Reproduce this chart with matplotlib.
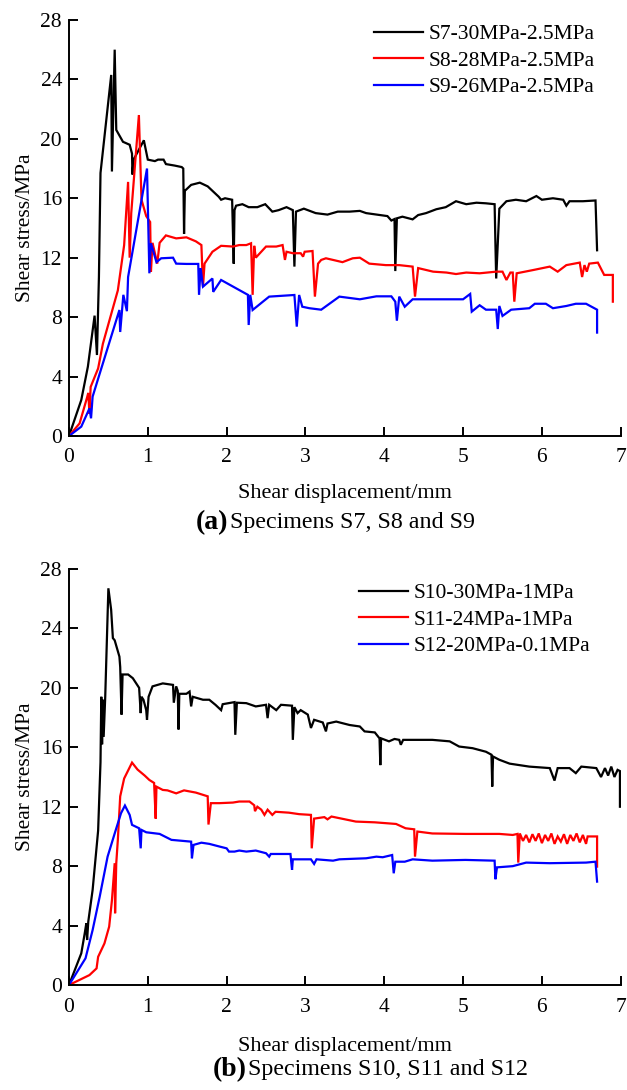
import numpy as np
import matplotlib
matplotlib.use("Agg")
import matplotlib.pyplot as plt

#--- Données ---
# (a) S7, S8, S9
s7_x = [0, 0.156, 0.24, 0.325, 0.355, 0.38, 0.40, 0.536, 0.545, 0.58, 0.60, 0.685, 0.77, 0.80, 0.805, 0.82,
        0.95, 1.0, 1.09, 1.13, 1.2, 1.23, 1.34, 1.43, 1.45, 1.46, 1.47, 1.55, 1.66, 1.76, 1.84, 1.9, 1.93,
        1.98, 2.07, 2.09, 2.10, 2.12, 2.2, 2.28, 2.39, 2.49, 2.58, 2.66, 2.76, 2.84, 2.86, 2.88, 2.98, 3.0,
        3.13, 3.28, 3.41, 3.56, 3.69, 3.77, 4.04, 4.09, 4.13, 4.14, 4.16, 4.23, 4.36, 4.43, 4.53, 4.66,
        4.78, 4.91, 5.04, 5.17, 5.29, 5.40, 5.41, 5.42, 5.45, 5.46, 5.55, 5.67, 5.80, 5.93, 6.0, 6.14,
        6.27, 6.31, 6.35, 6.52, 6.68, 6.70]
s7_y = [0, 2.42, 4.67, 8.1, 5.45, 10.7, 17.7, 24.3, 17.8, 26.0, 20.6, 19.8, 19.6, 19.0, 17.6, 18.6,
        19.9, 18.6, 18.5, 18.6, 18.6, 18.3, 18.2, 18.1, 18.0, 13.6, 16.5, 16.9, 17.05, 16.8, 16.4, 16.1,
        15.9, 16.0, 15.9, 11.6, 15.2, 15.5, 15.6, 15.4, 15.4, 15.6, 15.1, 15.2, 15.4, 15.2, 11.4, 15.1,
        15.3, 15.26, 15.0, 14.9, 15.1, 15.1, 15.15, 15.0, 14.8, 14.5, 14.6, 11.1, 14.65, 14.76, 14.58,
        14.87, 15.0, 15.26, 15.4, 15.8, 15.6, 15.7, 15.66, 15.6, 13.0, 10.6, 14.1, 15.3, 15.8, 15.9,
        15.8, 16.15, 15.9, 16.0, 15.9, 15.5, 15.8, 15.8, 15.85, 12.5]

s8_x = [0, 0.135, 0.23, 0.245, 0.26, 0.275, 0.37, 0.43, 0.62, 0.70, 0.75, 0.77, 0.79, 0.887, 0.92, 0.98,
        1.03, 1.04, 1.06, 1.09, 1.12, 1.15, 1.23, 1.36, 1.49, 1.61, 1.68, 1.70, 1.72, 1.82, 1.93, 2.08,
        2.16, 2.25, 2.31, 2.33, 2.35, 2.37, 2.50, 2.63, 2.71, 2.74, 2.76, 2.84, 2.94, 2.97, 2.99, 3.09,
        3.12, 3.16, 3.20, 3.26, 3.35, 3.47, 3.60, 3.69, 3.81, 4.02, 4.19, 4.36, 4.39, 4.43, 4.62, 4.79,
        4.91, 5.04, 5.21, 5.42, 5.50, 5.55, 5.60, 5.63, 5.65, 5.68, 5.89, 6.10, 6.20, 6.31, 6.48, 6.51,
        6.54, 6.57, 6.60, 6.71, 6.79, 6.90, 6.90]
s8_y = [0, 0.85, 2.6, 2.9, 1.5, 3.3, 4.55, 6.2, 9.8, 12.85, 17.1, 12.0, 15.0, 21.6, 15.9, 14.8,
        14.4, 11.06, 13.0, 12.3, 11.6, 13.0, 13.5, 13.3, 13.37, 13.1, 12.85, 10.05, 11.6, 12.4, 12.8, 12.75,
        12.85, 12.85, 12.97, 9.5, 12.8, 12.0, 12.75, 12.75, 12.85, 11.85, 12.4, 12.3, 12.3, 12.07, 12.4, 12.45,
        9.38, 11.6, 11.85, 11.96, 11.85, 11.7, 11.96, 12.0, 11.6, 11.5, 11.5, 11.4, 9.38, 11.3, 11.06, 11.0,
        10.9, 11.0, 10.95, 11.06, 11.06, 10.5, 11.0, 11.0, 9.04, 10.95, 11.17, 11.4, 11.06, 11.5, 11.67, 10.7,
        11.5, 11.06, 11.6, 11.67, 10.84, 10.84, 9.04]

s9_x = [0, 0.156, 0.26, 0.28, 0.30, 0.39, 0.64, 0.65, 0.69, 0.735, 0.75, 0.99, 1.02, 1.04, 1.11, 1.17,
        1.32, 1.36, 1.49, 1.64, 1.65, 1.67, 1.70, 1.82, 1.83, 1.93, 2.27, 2.28, 2.30, 2.33, 2.46, 2.54,
        2.86, 2.89, 2.92, 2.96, 3.05, 3.20, 3.43, 3.69, 3.90, 4.09, 4.14, 4.16, 4.19, 4.26, 4.36, 5.0,
        5.09, 5.11, 5.21, 5.29, 5.42, 5.44, 5.46, 5.50, 5.61, 5.84, 5.91, 6.05, 6.14, 6.31, 6.43, 6.56,
        6.70, 6.70]
s9_y = [0, 0.63, 1.86, 1.19, 2.65, 4.2, 8.48, 7.0, 9.5, 8.4, 10.7, 18.0, 10.95, 12.97, 11.7, 11.96,
        12.0, 11.6, 11.58, 11.58, 9.5, 11.3, 10.05, 10.6, 9.7, 10.5, 9.5, 7.47, 9.5, 8.48, 9.04, 9.38,
        9.49, 7.36, 9.49, 8.7, 8.6, 8.5, 9.38, 9.2, 9.4, 9.4, 9.04, 7.76, 9.38, 8.7, 9.2, 9.2,
        9.56, 8.37, 8.8, 8.5, 8.5, 7.2, 8.75, 8.08, 8.5, 8.6, 8.9, 8.9, 8.6, 8.75, 8.9, 8.9,
        8.5, 6.96]

# (b) S10, S11, S12
s10_x = [0, 0.156, 0.20, 0.22, 0.23, 0.245, 0.30, 0.37, 0.40, 0.41, 0.42, 0.43, 0.44, 0.46, 0.50, 0.535,
         0.557, 0.58, 0.64, 0.65, 0.667, 0.68, 0.75, 0.81, 0.89, 0.91, 0.92, 0.945, 0.98, 0.99, 1.01, 1.06,
         1.19, 1.32, 1.33, 1.36, 1.38, 1.39, 1.40, 1.49, 1.53, 1.55, 1.57, 1.70, 1.78, 1.86, 1.93, 1.95,
         2.10, 2.11, 2.13, 2.25, 2.37, 2.50, 2.52, 2.54, 2.63, 2.69, 2.83, 2.84, 2.86, 2.90, 2.94, 3.03,
         3.07, 3.11, 3.22, 3.26, 3.28, 3.39, 3.56, 3.69, 3.75, 3.88, 3.94, 3.95, 3.96, 4.06, 4.13, 4.19,
         4.21, 4.24, 4.61, 4.83, 4.95, 5.12, 5.29, 5.36, 5.37, 5.38, 5.46, 5.59, 5.84, 6.10, 6.16, 6.20,
         6.35, 6.43, 6.50, 6.69, 6.75, 6.80, 6.84, 6.88, 6.92, 6.96, 6.99, 6.99]
s10_y = [0, 2.13, 3.48, 4.15, 3.03, 4.27, 6.4, 10.4, 15.0, 19.4, 16.2, 19.2, 16.7, 19.4, 26.7, 25.26,
         23.35, 23.2, 22.1, 21.4, 18.2, 20.9, 20.9, 20.65, 20.0, 18.3, 19.4, 19.2, 18.5, 17.85, 19.4, 20.1,
         20.3, 20.2, 19.0, 20.1, 19.8, 17.2, 19.6, 19.6, 19.75, 18.75, 19.4, 19.2, 19.2, 18.85, 18.5, 18.9,
         19.04, 16.84, 19.0, 18.97, 18.75, 18.86, 17.96, 18.86, 18.5, 18.86, 18.8, 16.5, 18.7, 18.3, 18.5, 18.2,
         17.3, 17.85, 17.67, 17.07, 17.6, 17.73, 17.5, 17.4, 17.07, 17.0, 16.6, 14.8, 16.6, 16.4, 16.56, 16.5,
         16.17, 16.5, 16.5, 16.4, 16.05, 15.94, 15.7, 15.5, 13.36, 15.38, 15.16, 14.9, 14.7, 14.6, 13.76, 14.6,
         14.6, 14.26, 14.7, 14.6, 14.0, 14.6, 14.1, 14.7, 14.0, 14.48, 14.4, 12.0]

s11_x = [0, 0.26, 0.35, 0.37, 0.45, 0.51, 0.545, 0.58, 0.585, 0.60, 0.62, 0.65, 0.70, 0.80, 0.87, 0.96,
         1.02, 1.08, 1.10, 1.11, 1.19, 1.25, 1.36, 1.46, 1.61, 1.76, 1.77, 1.80, 1.91, 2.08, 2.16, 2.29,
         2.35, 2.36, 2.39, 2.44, 2.48, 2.52, 2.58, 2.62, 2.79, 2.92, 3.07, 3.08, 3.11, 3.24, 3.28, 3.33,
         3.64, 3.88, 4.15, 4.27, 4.38, 4.39, 4.42, 4.61, 5.03, 5.46, 5.63, 5.69, 5.70, 5.72, 5.76, 5.80,
         5.84, 5.88, 5.92, 5.96, 6.00, 6.04, 6.08, 6.12, 6.16, 6.20, 6.24, 6.28, 6.32, 6.36, 6.40, 6.44,
         6.48, 6.52, 6.56, 6.58, 6.70, 6.70]
s11_y = [0, 0.67, 1.12, 1.9, 2.8, 3.93, 5.7, 8.2, 4.83, 8.2, 9.77, 12.7, 13.9, 14.97, 14.5, 14.1,
         13.8, 13.6, 11.2, 13.35, 13.13, 13.1, 12.9, 13.1, 12.95, 12.7, 10.8, 12.24, 12.24, 12.28, 12.35, 12.35,
         12.1, 11.7, 12.0, 11.8, 11.45, 11.8, 11.45, 11.66, 11.6, 11.5, 11.45, 9.2, 11.2, 11.3, 11.15, 11.34,
         11.0, 10.95, 10.84, 10.55, 10.48, 8.64, 10.33, 10.2, 10.17, 10.17, 10.1, 10.17, 8.24, 10.2, 9.7, 10.1,
         9.6, 10.15, 9.7, 10.2, 9.55, 10.1, 9.7, 10.2, 9.5, 10.0, 9.65, 10.15, 9.5, 10.1, 9.7, 10.2,
         9.6, 10.1, 9.5, 10.0, 10.0, 7.97]

s12_x = [0, 0.21, 0.30, 0.39, 0.49, 0.58, 0.66, 0.71, 0.77, 0.80, 0.89, 0.91, 0.92, 0.98, 1.15, 1.30,
         1.55, 1.56, 1.58, 1.68, 1.78, 1.91, 2.0, 2.03, 2.10, 2.16, 2.25, 2.37, 2.50, 2.54, 2.56, 2.81,
         2.83, 2.84, 3.07, 3.11, 3.14, 3.35, 3.43, 3.77, 3.90, 3.98, 4.10, 4.12, 4.14, 4.26, 4.36, 4.61,
         5.03, 5.40, 5.41, 5.43, 5.63, 5.80, 6.10, 6.56, 6.68, 6.70]
s12_y = [0, 1.8, 3.7, 5.95, 8.64, 10.2, 11.56, 12.08, 11.45, 10.78, 10.55, 9.2, 10.44, 10.28, 10.17, 9.77,
         9.65, 8.53, 9.43, 9.58, 9.5, 9.32, 9.2, 8.98, 8.98, 9.05, 8.98, 9.05, 8.87, 8.64, 8.82, 8.82,
         7.75, 8.46, 8.46, 8.15, 8.46, 8.37, 8.46, 8.53, 8.64, 8.6, 8.75, 7.52, 8.3, 8.3, 8.46, 8.37,
         8.42, 8.37, 7.12, 7.92, 8.0, 8.24, 8.2, 8.24, 8.3, 6.96]

labels_a = ["S7-30MPa-2.5MPa", "S8-28MPa-2.5MPa", "S9-26MPa-2.5MPa"]
labels_b = ["S10-30MPa-1MPa", "S11-24MPa-1MPa", "S12-20MPa-0.1MPa"]
couleurs = ["black", "red", "blue"]
x_ticks = [0, 1, 2, 3, 4, 5, 6, 7]
y_ticks = [0, 4, 8, 12, 16, 20, 24, 28]

plt.rcParams['font.family'] = ['Liberation Serif', 'DejaVu Serif']

fig = plt.figure(figsize=(6.27, 10.9), dpi=100)
ax1 = fig.add_axes([0.110, 0.600, 0.880, 0.3817])
ax2 = fig.add_axes([0.110, 0.0963, 0.880, 0.3817])


#--- Mise en forme d'un graphique ---
def Mise_en_forme(ax, series, labels, legende_haut, pad_xlabel):
    for (x, y), lab, c in zip(series, labels, couleurs):
        ax.plot(x, y, color=c, lw=1.6, label=lab, solid_joinstyle='miter')
    ax.set_xlim(0, 7)
    ax.set_ylim(0, 28)
    ax.set_xticks(x_ticks)
    ax.set_yticks(y_ticks)
    ax.spines['top'].set_visible(False)
    ax.spines['right'].set_visible(False)
    for s in ['left', 'bottom']:
        ax.spines[s].set_linewidth(1.4)
    ax.tick_params(direction='in', length=6.5, width=1.4, labelsize=15.5)
    ax.tick_params(axis='x', pad=9)
    ax.tick_params(axis='y', pad=5)
    ax.set_ylabel("Shear stress/MPa", fontsize=15.5, labelpad=4)
    ax.set_xlabel("Shear displacement/mm", fontsize=16, labelpad=pad_xlabel)
    ax.legend(loc='upper right', bbox_to_anchor=legende_haut, frameon=False, fontsize=15.5,
              handlelength=2.28, handletextpad=0.25, labelspacing=0.3, borderaxespad=0, borderpad=0)


Mise_en_forme(ax1, [(s7_x, s7_y), (s8_x, s8_y), (s9_x, s9_y)], labels_a, (0.953, 0.99), 12)
Mise_en_forme(ax2, [(s10_x, s10_y), (s11_x, s11_y), (s12_x, s12_y)], labels_b, (0.944, 0.966), 15)

#--- Légendes des sous-figures ---
fig.text(228 / 627, 1 - 523 / 1090, "(a)", fontsize=20, fontweight='bold', ha='right', va='center')
fig.text(230 / 627, 1 - 523 / 1090, "Specimens S7, S8 and S9", fontsize=17.3, ha='left', va='center')
fig.text(247 / 627, 1 - 1070 / 1090, "(b)", fontsize=20, fontweight='bold', ha='right', va='center')
fig.text(248 / 627, 1 - 1070 / 1090, "Specimens S10, S11 and S12", fontsize=17.3, ha='left', va='center')

fig.savefig("out.png", dpi=100)
